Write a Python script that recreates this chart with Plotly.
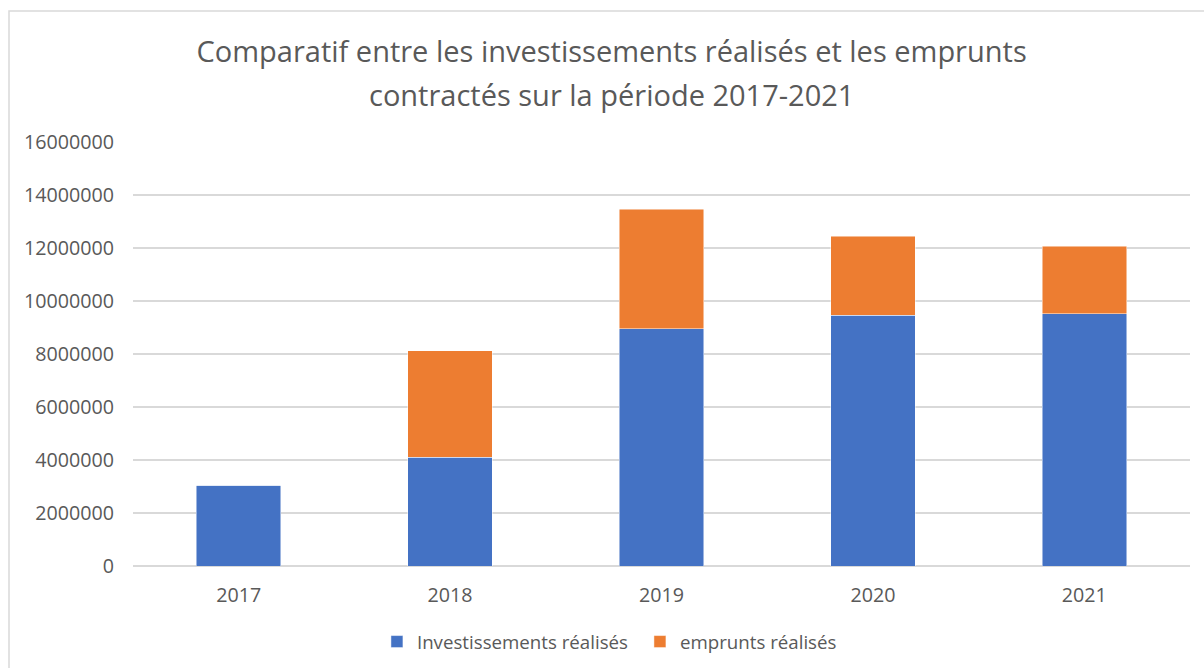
import plotly.graph_objects as go

years = ["2017", "2018", "2019", "2020", "2021"]
investissements = [3045000, 4100000, 8955000, 9470000, 9520000]
emprunts = [0, 4025000, 4505000, 2980000, 2540000]
y_ticks = [0, 2000000, 4000000, 6000000, 8000000, 10000000, 12000000, 14000000, 16000000]

title_line1 = "Comparatif entre les investissements réalisés et les emprunts"
title_line2 = "contractés sur la période 2017-2021"

FONT = "Open Sans"
GREY = "#595959"

fig = go.Figure()
fig.add_trace(go.Bar(x=years, y=investissements, name="Investissements réalisés",
                     marker=dict(color="#4472C4", line=dict(color="rgba(255,255,255,0.6)", width=0.8))))
fig.add_trace(go.Bar(x=years, y=emprunts, name="emprunts réalisés",
                     marker=dict(color="#ED7D31", line=dict(color="rgba(255,255,255,0.6)", width=0.8))))

fig.update_layout(
    width=1204, height=668,
    barmode="stack", bargap=0.6,
    paper_bgcolor="white", plot_bgcolor="white",
    margin=dict(l=133, r=14, t=142, b=102, autoexpand=False),
    font=dict(family=FONT, color=GREY),
    title=dict(text=title_line1, x=0.508, xref="container", xanchor="center",
               y=1 - 52 / 668, yref="container", yanchor="middle",
               font=dict(family=FONT, size=29, color=GREY)),
    showlegend=True,
    legend=dict(orientation="h", x=0.4796, xanchor="center", y=-0.179, yanchor="middle",
                font=dict(family=FONT, size=18.7, color=GREY), traceorder="normal",
                entrywidth=218),
    xaxis=dict(showline=False, ticks="", ticklabelstandoff=15,
               tickfont=dict(size=19.7, color=GREY)),
    yaxis=dict(range=[0, 16000000], tickvals=y_ticks, ticktext=[str(v) for v in y_ticks],
               showgrid=True, gridcolor="#D9D9D9", gridwidth=1.5,
               zeroline=True, zerolinecolor="#D9D9D9", zerolinewidth=1.5,
               ticks="", ticklabelstandoff=18, tickfont=dict(size=19.7, color=GREY)),
    annotations=[dict(text=title_line2, x=0.453, y=(566 - 94) / 424, xref="paper", yref="paper",
                      xanchor="center", yanchor="middle", showarrow=False,
                      font=dict(family=FONT, size=29, color=GREY))],
    shapes=[dict(type="rect", xref="paper", yref="paper",
                 x0=(9 - 133) / 1057, x1=(1220 - 133) / 1057,
                 y0=(566 - 690) / 424, y1=(566 - 11) / 424,
                 line=dict(color="#D9D9D9", width=1.5), layer="below")],
)

fig.write_html("out.html", config={"displayModeBar": False},
               post_script="document.body.style.margin='0';document.body.style.overflow='hidden';")
